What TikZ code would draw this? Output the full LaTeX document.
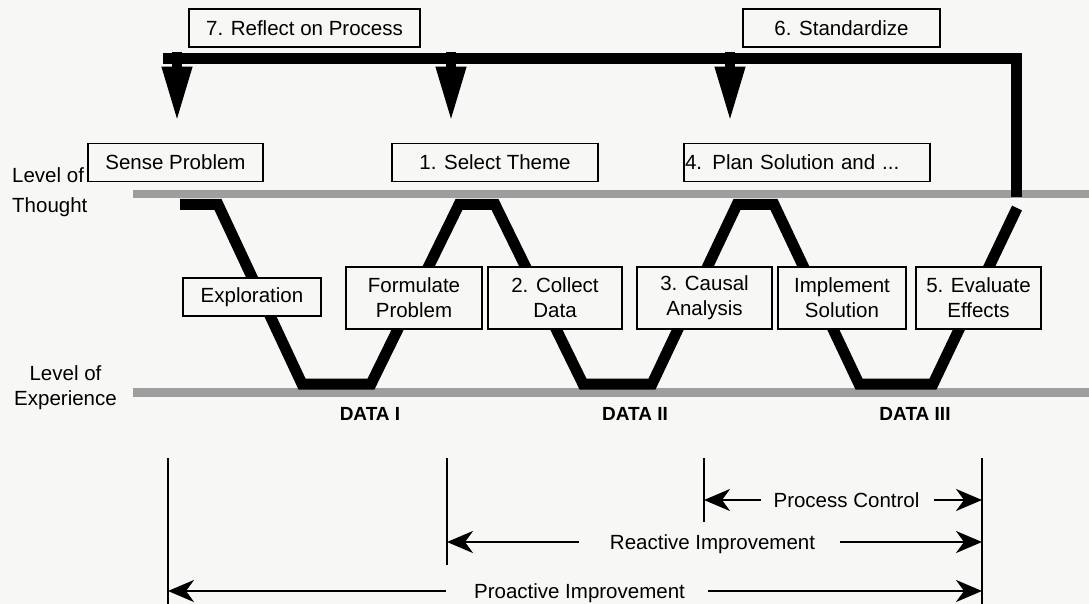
\documentclass[tikz,border=0pt]{standalone}
\usepackage{fontspec}
\setmainfont{Liberation Sans}
\usetikzlibrary{arrows.meta}

\definecolor{paper}{RGB}{247,247,245}

\begin{document}
\begin{tikzpicture}[x=1pt, y=-1pt,
    every node/.style={font=\fontsize{20.5}{25}\selectfont},
    box/.style={draw, line width=1.8pt, fill=paper, minimum height=38pt, inner sep=0pt, align=center},
    tallbox/.style={box, minimum height=62pt},
    band/.style={fill=black!38},
    wave/.style={line width=11pt, line join=miter},
    bigarrow/.style={line width=10pt, -{Triangle[length=55pt, width=28pt]}},
    dimline/.style={line width=2.2pt},
    dimarrow/.style={line width=2.4pt, -{Stealth[length=26pt, width=22pt, inset=8pt]}},
    datalabel/.style={font=\fontsize{19}{22}\selectfont\bfseries, inner sep=0pt}]

    % Page
    \fill[paper] (0,0) rectangle (1089,604);
    \useasboundingbox (0,0) rectangle (1089,604);

    % Levels
    \fill[band] (133,190) rectangle (1089,198);
    \fill[band] (133,388) rectangle (1089,397);
    \node[anchor=north west, inner sep=0pt, align=left, font=\fontsize{20.5}{30}\selectfont] (thought) at (12,167) {Level of\\Thought};
    \node[anchor=north, inner sep=0pt, align=center] (experience) at (65.5,365) {Level of\\Experience};

    % Wave between thought and experience
    \draw[wave] (180,204.5) -- (218,204.5) -- (302,384) -- (371,384)
        -- (459,204.5) -- (495,204.5) -- (583,384) -- (652,384)
        -- (737,204.5) -- (774,204.5) -- (859,384) -- (933,384) -- (1017,208);

    % Data labels
    \node[datalabel, anchor=base] (data1) at (370,420) {DATA I};
    \node[datalabel, anchor=base] (data2) at (635,420) {DATA II};
    \node[datalabel, anchor=base] (data3) at (915,420) {DATA III};

    % Top boxes
    \node[box, minimum width=231pt] (reflect) at (304.5,28) {7. Reflect on Process};
    \node[box, minimum width=197pt] (standard) at (841.5,28) {6. Standardize};
    \node[box, minimum width=175pt] (sense) at (175.5,162.5) {Sense Problem};
    \node[box, minimum width=206pt] (theme) at (495,162.5) {1. Select Theme};
    \node[box, text width=244pt, inner xsep=1pt, align=left] (plan) at (807,162.5) {4. Plan Solution and ...};

    % Middle boxes
    \node[box, minimum width=138pt] (explore) at (252,297) {Exploration};
    \node[tallbox, minimum width=136pt] (formulate) at (414,298) {Formulate\\Problem};
    \node[tallbox, minimum width=134pt] (collect) at (555,298) {2. Collect\\Data};
    \node[tallbox, minimum width=135pt] (causal) at (704.5,298) {3. Causal\\Analysis};
    \node[tallbox, minimum width=128pt] (implement) at (842,298) {Implement\\Solution};
    \node[tallbox, minimum width=125pt] (evaluate) at (978.5,298) {5. Evaluate\\Effects};

    % Feedback bar
    \coordinate (barL) at (163,59);
    \coordinate (barR) at (1016,59);
    \coordinate (barE) at (1016,197);
    \draw[line width=11pt, line join=miter] (barL) -- (barR) -- (barE);
    \coordinate (a1) at (177,52);
    \coordinate (a2) at (451,52);
    \coordinate (a3) at (730,52);
    \draw[bigarrow, shorten >=21pt] (a1) -- (a1 |- sense.north);
    \draw[bigarrow, shorten >=21pt] (a2) -- (a2 |- theme.north);
    \draw[bigarrow, shorten >=21pt] (a3) -- (a3 |- plan.north);

    % Spans
    \coordinate (v1t) at (168,458); \coordinate (v1b) at (168,604);
    \coordinate (v2t) at (447,458); \coordinate (v2b) at (447,565);
    \coordinate (v3t) at (704,458); \coordinate (v3b) at (704,522);
    \coordinate (v4t) at (982,458); \coordinate (v4b) at (982,604);
    \draw[dimline] (v1t) -- (v1b);
    \draw[dimline] (v2t) -- (v2b);
    \draw[dimline] (v3t) -- (v3b);
    \draw[dimline] (v4t) -- (v4b);

    \coordinate (pcy) at (0,500);
    \coordinate (rey) at (0,542);
    \coordinate (pry) at (0,591);
    \node[anchor=base, inner sep=0pt] (control) at (846.5,507) {Process Control};
    \node[anchor=base, inner sep=0pt] (reactive) at (712.5,549) {Reactive Improvement};
    \node[anchor=base, inner sep=0pt] (proactive) at (579.5,598) {Proactive Improvement};

    \draw[dimarrow, shorten <=12pt] (control.west |- pcy) -- (v3t |- pcy);
    \draw[dimarrow, shorten <=14pt] (control.east |- pcy) -- (v4t |- pcy);
    \draw[dimarrow, shorten <=31pt] (reactive.west |- rey) -- (v2t |- rey);
    \draw[dimarrow, shorten <=25pt] (reactive.east |- rey) -- (v4t |- rey);
    \draw[dimarrow, shorten <=28pt] (proactive.west |- pry) -- (v1t |- pry);
    \draw[dimarrow, shorten <=23pt] (proactive.east |- pry) -- (v4t |- pry);
\end{tikzpicture}
\end{document}
